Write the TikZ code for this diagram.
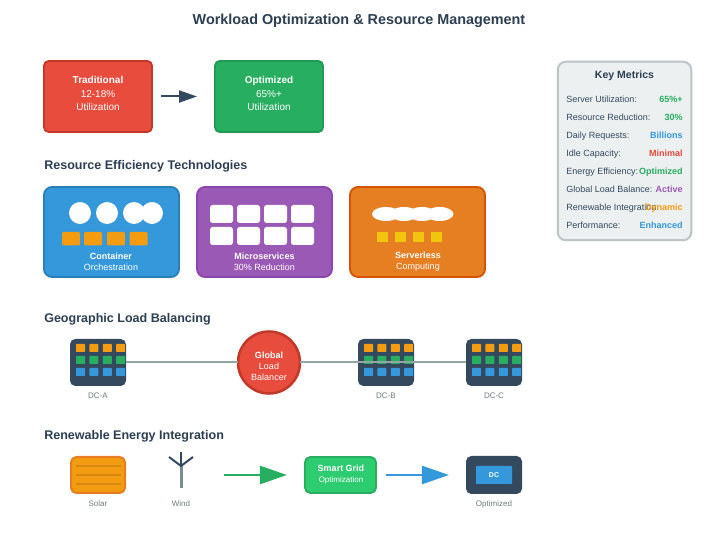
\documentclass[tikz,border=0pt]{standalone}
\usepackage{fontspec}
\setmainfont{Liberation Sans}
\usetikzlibrary{arrows.meta}
\usetikzlibrary{shapes.geometric}

\definecolor{ink}{HTML}{2C3E50}
\definecolor{slate}{HTML}{34495E}
\definecolor{redfill}{HTML}{E74C3C}
\definecolor{redline}{HTML}{C0392B}
\definecolor{greenfill}{HTML}{27AE60}
\definecolor{greenline}{HTML}{229954}
\definecolor{lightgreen}{HTML}{2ECC71}
\definecolor{bluefill}{HTML}{3498DB}
\definecolor{blueline}{HTML}{2980B9}
\definecolor{purplefill}{HTML}{9B59B6}
\definecolor{purpleline}{HTML}{8E44AD}
\definecolor{orangefill}{HTML}{E67E22}
\definecolor{orangeline}{HTML}{D35400}
\definecolor{amber}{HTML}{F39C12}
\definecolor{yellowfill}{HTML}{F1C40F}
\definecolor{greyline}{HTML}{95A5A6}
\definecolor{greymast}{HTML}{7F8C8D}
\definecolor{greytext}{HTML}{707B7C}
\definecolor{panelfill}{HTML}{ECF0F1}
\definecolor{panelline}{HTML}{BDC3C7}
\definecolor{solarline}{HTML}{D68910}

\def\px{0.75pt}

\begin{document}
\begin{tikzpicture}[
  x=0.75pt,y=-0.75pt,
  title/.style={anchor=base,font=\fontsize{10.8}{13}\selectfont\bfseries,text=ink,inner sep=0pt},
  section/.style={anchor=base west,font=\fontsize{9.4}{12}\selectfont\bfseries,text=ink,inner sep=0pt},
  state/.style={draw,rounded corners=3.5pt,line width=1.4pt,minimum width=108*\px,minimum height=71*\px,inner sep=0pt,outer sep=0pt},
  statelabel/.style={text=white,align=center,inner sep=0pt,font=\fontsize{7.5}{10.1}\selectfont},
  tech/.style={draw,rounded corners=6pt,line width=1.4pt,minimum width=135*\px,minimum height=90*\px,inner sep=0pt,outer sep=0pt},
  techlabel/.style={text=white,align=center,inner sep=0pt,font=\fontsize{6.75}{8.4}\selectfont},
  block/.style={rounded corners=#1,inner sep=0pt,outer sep=0pt},
  block/.default=0pt,
  dc/.style={block=4pt,fill=slate,minimum width=56*\px,minimum height=47*\px},
  rack/.style={block=0.5pt,minimum width=9*\px,minimum height=8*\px},
  caption/.style={anchor=base,text=greytext,inner sep=0pt,font=\fontsize{6}{7}\selectfont},
  metric/.style={anchor=base west,text=slate,inner sep=0pt,font=\fontsize{6.75}{8}\selectfont},
  value/.style={anchor=base east,inner sep=0pt,font=\fontsize{6.75}{8}\selectfont\bfseries},
  link/.style={draw=greyline,line width=1.5pt},
  bigarrow/.style={line width=1.9pt,-{Triangle[length=20.3pt,width=13.5pt]}}]

  \useasboundingbox (0,0) rectangle (719,538);

  \node [title] (heading) at (359,25) {Workload Optimization \& Resource Management};

  % before and after
  \node [state,fill=redfill,draw=redline] (trad) at (98,96.5) {};
  \node [statelabel] (tradlab) at (98,93.5) {\textbf{Traditional}\\12-18\%\\Utilization};
  \node [state,fill=greenfill,draw=greenline] (opt) at (269,96.5) {};
  \node [statelabel] (optlab) at (269,93.5) {\textbf{Optimized}\\65\%+\\Utilization};
  \draw [slate,line width=1.5pt,-{Triangle[length=13.5pt,width=9pt]},shorten <=6.75pt,shorten >=13.5pt] (trad) -- (opt);

  % technologies
  \node [section] (techhead) at (44,169.5) {Resource Efficiency Technologies};
  \node [tech,fill=bluefill,draw=blueline] (container) at (111.5,232) {};
  \node [tech,fill=purplefill,draw=purpleline] (micro) at (264.5,232) {};
  \node [tech,fill=orangefill,draw=orangeline] (serverless) at (417.5,232) {};

  \foreach \n/\cx in {1/80,2/107,3/134,4/152}
    \node [circle,fill=white,inner sep=0pt,minimum size=22*\px] (pod\n) at (\cx,213) {};
  \foreach \n/\cx in {1/71,2/93,3/116,4/138.5}
    \node [block=0.8pt,fill=amber,minimum width=18*\px,minimum height=13.5*\px] (task\n) at (\cx,238.7) {};

  \foreach \n/\cx in {1/221.5,2/248.5,3/275.5,4/302.5} {
    \node [block=2pt,fill=white,minimum width=23*\px,minimum height=18*\px] (svcup\n) at (\cx,214) {};
    \node [block=2pt,fill=white,minimum width=23*\px,minimum height=18*\px] (svcdown\n) at (\cx,236) {};
  }

  \foreach \n/\cx in {1/386,2/404,3/422,4/439.5}
    \node [ellipse,fill=white,inner sep=0pt,minimum width=28*\px,minimum height=14*\px] (fn\n) at (\cx,214) {};
  \foreach \n/\cx in {1/382.5,2/400.5,3/418.5,4/436.5}
    \node [block,fill=yellowfill,minimum width=11*\px,minimum height=10*\px] (event\n) at (\cx,237) {};

  \node [techlabel] (containerlab) at (111,262) {\textbf{Container}\\Orchestration};
  \node [techlabel] (microlab) at (264.5,262) {\textbf{Microservices}\\30\% Reduction};
  \node [techlabel] (serverlesslab) at (418,262) {\textbf{Serverless}\\Computing};

  % load balancing
  \node [section] (geohead) at (44,322.5) {Geographic Load Balancing};
  \foreach \dcname/\cx/\lab in {A/98/DC-A,B/386/DC-B,C/494/DC-C} {
    \node [dc] (dc\dcname) at (\cx,362.5) {};
    \foreach \row/\dy/\col in {1/-14.5/amber,2/-2.5/greenfill,3/9.5/bluefill}
      \foreach \i in {0,1,2,3}
        \node [rack,fill=\col] (rack\dcname\row\i) at (\cx-17.5+13.4*\i,362.5+\dy) {};
    \node [caption] (cap\dcname) at (\cx,399) {\lab};
  }
  \node [circle,fill=redfill,draw=redline,line width=1.9pt,inner sep=0pt,outer sep=0pt,minimum size=62*\px] (lb) at (269,362.5) {};
  \node [techlabel] (lblab) at (269,366) {\textbf{Global}\\Load\\Balancer};
  \path [link] (dcA) -- (lb);
  \path [link] (lb) -- (dcC);

  % renewables
  \node [section] (greenhead) at (44,439.5) {Renewable Energy Integration};
  \node [block=4pt,draw=orangefill,fill=amber,line width=1.5pt,minimum width=54*\px,minimum height=36*\px] (solar) at (98,475) {};
  \foreach \y in {466,475,484}
    \draw [solarline,line width=0.9pt] (76,\y) -- (120.5,\y);
  \node [caption] (solarlab) at (98,507) {Solar};

  \coordinate (hub) at (181,466);
  \coordinate (mastfoot) at (181,488.5);
  \coordinate (bladeleft) at (169,457);
  \coordinate (bladeright) at (193,457);
  \coordinate (bladeup) at (181,452);
  \draw [greymast,line width=2.25pt] (hub) -- (mastfoot);
  \draw [slate,line width=1.5pt] (bladeleft) -- (hub) -- (bladeright);
  \draw [slate,line width=1.5pt] (bladeup) -- (hub);
  \node [caption] (windlab) at (181,507) {Wind};

  \coordinate (flowstart) at (224,475);
  \node [block=4pt,draw=greenfill,fill=lightgreen,line width=1.4pt,minimum width=71*\px,minimum height=36*\px] (grid) at (340.5,475) {};
  \node [anchor=base,inner sep=0pt,text=white,font=\fontsize{6.75}{8}\selectfont\bfseries] (gridlab) at (341,471.3) {Smart Grid};
  \node [anchor=base,inner sep=0pt,text=white,font=\fontsize{6}{8}\selectfont] (gridsub) at (341,482.5) {Optimization};
  \draw [greenfill,bigarrow,shorten >=13.5pt] (flowstart) -- (grid);

  \node [dc,minimum height=38*\px] (dcopt) at (494,475) {};
  \node [block=0.5pt,fill=bluefill,minimum width=36*\px,minimum height=18*\px,text=white,font=\fontsize{5.25}{6}\selectfont\bfseries] (dcchip) at (494,475) {DC};
  \draw [bluefill,bigarrow,shorten <=7.5pt,shorten >=12.75pt] (grid) -- (dcopt);
  \node [caption] (optimlab) at (494,507) {Optimized};

  % metrics panel
  \node [block=6pt,draw=panelline,fill=panelfill,line width=1.5pt,minimum width=133.5*\px,minimum height=178.5*\px] (panel) at (624.5,151) {};
  \node [anchor=base,inner sep=0pt,text=ink,font=\fontsize{7.9}{10}\selectfont\bfseries] (panelhead) at (624.5,79) {Key Metrics};
  \foreach \n/\y/\lab/\val/\col in {
      1/102.3/Server Utilization:/65\%+/greenfill,
      2/120.3/Resource Reduction:/30\%/greenfill,
      3/138.3/Daily Requests:/Billions/bluefill,
      4/156.3/Idle Capacity:/Minimal/redfill,
      5/174.3/Energy Efficiency:/Optimized/greenfill,
      6/192.3/Global Load Balance:/Active/purplefill,
      7/210.3/Renewable Integration:/Dynamic/amber,
      8/228.3/Performance:/Enhanced/bluefill} {
    \node [metric] (metric\n) at (566,\y) {\lab};
    \node [value,text=\col] (value\n) at (683,\y) {\val};
  }
\end{tikzpicture}
\end{document}
